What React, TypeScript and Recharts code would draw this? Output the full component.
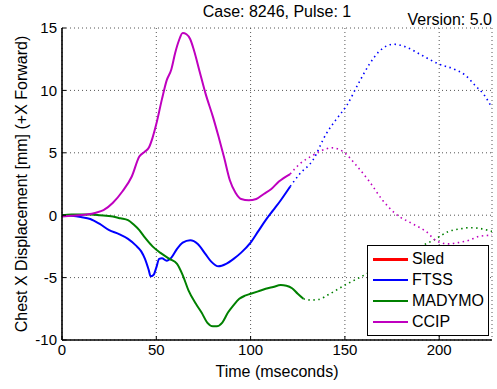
import { CartesianGrid, Line, LineChart, XAxis, YAxis } from "recharts";

// time (ms) / displacement (mm)
const ftssTime = [0, 5, 10, 15, 20, 25, 30, 35, 39, 42, 44, 46, 47, 48.5, 50, 51.5, 53, 55.5, 58, 61, 64, 68, 72, 76, 79, 83, 87, 91, 95, 100, 104, 108, 112, 116, 121];
const ftssValue = [0, -0.05, -0.15, -0.3, -0.7, -1.2, -1.5, -1.9, -2.4, -2.9, -3.5, -4.4, -4.9, -4.8, -4.2, -3.5, -3.45, -3.65, -3.4, -2.7, -2.2, -2.0, -2.3, -3.1, -3.7, -4.1, -3.9, -3.5, -3.0, -2.2, -1.3, -0.4, 0.4, 1.2, 2.3];
const ftssDotTime = [121, 126, 133, 140, 145, 151, 157, 163, 168, 176, 182, 191, 200, 208, 214, 219, 224, 228];
const ftssDotValue = [2.3, 3.3, 4.4, 6.5, 7.6, 8.8, 10.5, 12.1, 13.1, 13.7, 13.5, 12.8, 12.1, 11.7, 11.2, 10.4, 9.6, 8.6];

const madymoTime = [0, 5, 10, 15, 20, 27, 31, 35, 38, 41, 44, 48, 52, 57, 61, 64, 67, 71, 74, 77, 80, 82, 85, 88, 91, 94, 97, 100, 104, 108, 112, 116, 119, 122, 125, 128];
const madymoValue = [0, 0.05, 0.05, 0.05, 0, -0.1, -0.25, -0.4, -0.75, -1.2, -1.8, -2.5, -3.0, -3.5, -3.9, -4.8, -6.0, -7.1, -7.8, -8.6, -8.9, -8.9, -8.6, -7.8, -7.2, -6.7, -6.45, -6.3, -6.1, -5.9, -5.75, -5.6, -5.65, -5.85, -6.3, -6.7];
const madymoDotTime = [128, 132, 136, 142, 150, 159, 170, 180, 190, 197, 205, 211, 216, 221, 228];
const madymoDotValue = [-6.7, -6.8, -6.75, -6.3, -5.6, -4.9, -4.0, -3.2, -2.5, -2.0, -1.3, -1.1, -1.0, -1.05, -1.3];

const ccipTime = [0, 5, 13, 18, 22, 27, 32, 37, 41, 44, 46, 48, 50, 53, 55.5, 58, 60, 62, 64, 66, 68, 70, 73, 76, 80, 83, 86, 89, 92, 95, 99, 103, 107, 111, 115, 121];
const ccipValue = [-0.1, -0.05, 0.05, 0.2, 0.4, 1.0, 1.9, 3.1, 4.7, 5.1, 5.4, 6.2, 7.3, 9.3, 10.8, 11.7, 13.0, 14.0, 14.6, 14.5, 14.1, 13.2, 11.5, 9.8, 7.9, 6.3, 4.6, 2.8, 1.8, 1.3, 1.2, 1.3, 1.7, 2.1, 2.7, 3.3];
const ccipDotTime = [121, 126, 133, 138, 143, 149, 156, 163, 170, 177, 186, 193, 199, 205, 210, 216, 221, 228];
const ccipDotValue = [3.3, 4.1, 4.8, 5.2, 5.4, 5.1, 4.0, 2.7, 1.2, 0.1, -0.7, -1.3, -2.1, -2.3, -2.2, -2.0, -1.7, -1.6];

const xTicks = [0, 50, 100, 150, 200];
const yTicks = [-10, -5, 0, 5, 10, 15];

const legendNames = ["Sled", "FTSS", "MADYMO", "CCIP"];
const legendColors = ["#ff0000", "#0000ff", "#008000", "#bf00bf"];

const FONT = '"Liberation Sans", Arial, Helvetica, sans-serif';

const pts = (t: number[], v: number[]) => t.map((x, i) => ({ t: x, v: v[i] }));

export default function App() {
  const tickStyle = { fontSize: 15, fill: "#000", fontFamily: FONT };
  const axisLine = { stroke: "#000", strokeWidth: 1.6 };
  return (
    <div style={{ position: "absolute", left: 0, top: 0, width: 497, height: 389, background: "#fff", fontFamily: FONT }}>
      <LineChart width={497} height={389} margin={{ top: 28, right: 5, bottom: 19, left: 22 }}>
        <CartesianGrid stroke="#555" strokeDasharray="1 3" />
        <XAxis
          dataKey="t"
          type="number"
          domain={[0, 228]}
          ticks={xTicks}
          allowDataOverflow
          height={30}
          tick={tickStyle}
          tickSize={-4}
          tickMargin={8}
          stroke="#000"
          axisLine={axisLine}
        />
        <XAxis
          xAxisId="top"
          orientation="top"
          type="number"
          domain={[0, 228]}
          ticks={xTicks}
          height={0}
          tickSize={-4}
          tickFormatter={() => ""}
          stroke="#000"
          axisLine={axisLine}
        />
        <YAxis
          type="number"
          domain={[-10, 15]}
          ticks={yTicks}
          allowDataOverflow
          width={40}
          tick={tickStyle}
          tickSize={-4}
          tickMargin={9}
          stroke="#000"
          axisLine={axisLine}
        />
        <YAxis
          yAxisId="right"
          orientation="right"
          type="number"
          domain={[-10, 15]}
          ticks={yTicks}
          width={0}
          tickSize={-4}
          tickFormatter={() => ""}
          stroke="#000"
          axisLine={axisLine}
        />
        <Line type="monotone" data={pts(ftssTime, ftssValue)} dataKey="v" stroke="#0000ff" strokeWidth={2} dot={false} isAnimationActive={false} />
        <Line type="monotone" data={pts(ftssDotTime, ftssDotValue)} dataKey="v" stroke="#0000ff" strokeWidth={1.6} strokeDasharray="1.5 3.5" dot={false} isAnimationActive={false} />
        <Line type="monotone" data={pts(madymoTime, madymoValue)} dataKey="v" stroke="#008000" strokeWidth={2} dot={false} isAnimationActive={false} />
        <Line type="monotone" data={pts(madymoDotTime, madymoDotValue)} dataKey="v" stroke="#008000" strokeWidth={1.6} strokeDasharray="1.5 3.5" dot={false} isAnimationActive={false} />
        <Line type="monotone" data={pts(ccipTime, ccipValue)} dataKey="v" stroke="#bf00bf" strokeWidth={2} dot={false} isAnimationActive={false} />
        <Line type="monotone" data={pts(ccipDotTime, ccipDotValue)} dataKey="v" stroke="#bf00bf" strokeWidth={1.6} strokeDasharray="1.5 3.5" dot={false} isAnimationActive={false} />
      </LineChart>

      <div style={{ position: "absolute", left: 62, width: 430, top: 2, textAlign: "center", fontSize: 16, lineHeight: "20px" }}>
        Case: 8246, Pulse: 1
      </div>
      <div style={{ position: "absolute", right: 5, top: 10, fontSize: 16, lineHeight: "20px" }}>Version: 5.0</div>
      <div style={{ position: "absolute", left: 62, width: 430, top: 362, textAlign: "center", fontSize: 16, lineHeight: "20px" }}>
        Time (mseconds)
      </div>
      <div
        style={{
          position: "absolute",
          left: 22,
          top: 184,
          fontSize: 16,
          lineHeight: "20px",
          whiteSpace: "nowrap",
          transform: "translate(-50%, -50%) rotate(-90deg)",
        }}
      >
        Chest X Displacement [mm] (+X Forward)
      </div>

      <div
        style={{
          position: "absolute",
          left: 367,
          top: 245,
          width: 120,
          height: 89,
          border: "1px solid #000",
          background: "#fff",
        }}
      >
        {legendNames.map((name, i) => (
          <div key={name} style={{ position: "absolute", left: 5, top: 3 + i * 21, height: 20, display: "flex", alignItems: "center" }}>
            <div style={{ width: 35, height: i === 0 ? 3 : 2, background: legendColors[i] }} />
            <span style={{ marginLeft: 4, fontSize: 16 }}>{name}</span>
          </div>
        ))}
      </div>
    </div>
  );
}
